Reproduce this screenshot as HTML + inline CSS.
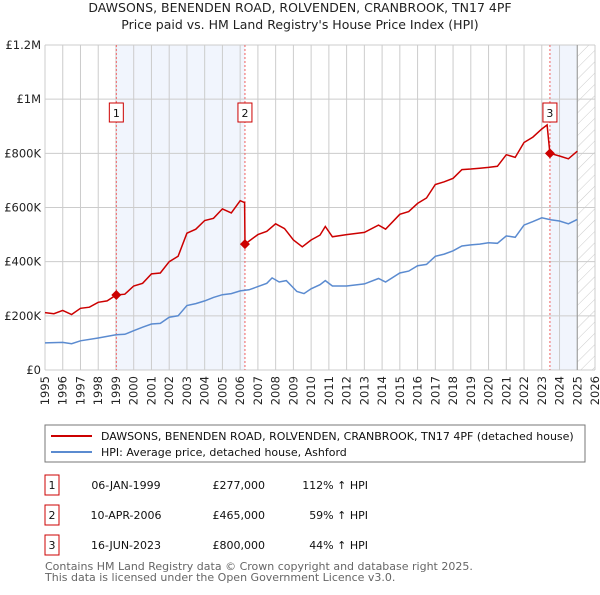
<!DOCTYPE html>
<html><head><meta charset="utf-8"><style>
body{margin:0;background:#fff;font-family:"Liberation Sans","DejaVu Sans",sans-serif;}
svg text{font-family:"DejaVu Sans","Liberation Sans",sans-serif;}
</style></head><body>
<svg id="chart" width="600" height="590" viewBox="0 0 600 590" xmlns="http://www.w3.org/2000/svg">
<defs><pattern id="hatch" patternUnits="userSpaceOnUse" width="8" height="8" patternTransform="rotate(45)"><line x1="0" y1="0" x2="0" y2="8" stroke="#ccc" stroke-width="1"/></pattern></defs>
<text x="300" y="12" text-anchor="middle" font-size="12.5" fill="#222">DAWSONS, BENENDEN ROAD, ROLVENDEN, CRANBROOK, TN17 4PF</text>
<text x="300" y="29" text-anchor="middle" font-size="12.5" fill="#222">Price paid vs. HM Land Registry's House Price Index (HPI)</text>
<g id="bg"></g><g id="grid"></g><g id="series"></g><g id="axes"></g>
<rect x="45" y="425" width="540" height="37" fill="#fff" stroke="#777"/>
<line x1="51" y1="436" x2="92" y2="436" stroke="#cc0000" stroke-width="2"/>
<text x="101" y="440" font-size="11" fill="#111">DAWSONS, BENENDEN ROAD, ROLVENDEN, CRANBROOK, TN17 4PF (detached house)</text>
<line x1="51" y1="452" x2="92" y2="452" stroke="#5b8bd0" stroke-width="2"/>
<text x="101" y="456" font-size="11" fill="#111">HPI: Average price, detached house, Ashford</text>
<g id="table" font-size="11" fill="#111"></g>
<text x="45" y="570" font-size="11" fill="#666">Contains HM Land Registry data © Crown copyright and database right 2025.</text>
<text x="45" y="581" font-size="11" fill="#666">This data is licensed under the Open Government Licence v3.0.</text>
</svg>
<script>
const yTicks=[0,200000,400000,600000,800000,1000000,1200000];
const yTickLabels=["£0","£200K","£400K","£600K","£800K","£1M","£1.2M"];
const years=[1995,1996,1997,1998,1999,2000,2001,2002,2003,2004,2005,2006,2007,2008,2009,2010,2011,2012,2013,2014,2015,2016,2017,2018,2019,2020,2021,2022,2023,2024,2025,2026];
const hpiX=[1995,1996,1996.5,1997,1998,1999,1999.5,2000,2000.5,2001,2001.5,2002,2002.5,2003,2003.5,2004,2004.5,2005,2005.5,2006,2006.5,2007,2007.5,2007.8,2008.2,2008.6,2009.2,2009.6,2010,2010.5,2010.8,2011.2,2012,2013,2013.8,2014.2,2015,2015.5,2016,2016.5,2017,2017.5,2018,2018.5,2019,2019.5,2020,2020.5,2021,2021.5,2022,2022.5,2023,2023.5,2024,2024.5,2025];
const hpiY=[100000,102000,97000,108000,118000,130000,132000,145000,158000,170000,172000,195000,200000,238000,245000,255000,268000,278000,282000,292000,296000,308000,320000,340000,325000,330000,290000,282000,300000,315000,330000,310000,310000,318000,338000,325000,358000,365000,385000,390000,420000,428000,440000,458000,462000,465000,470000,468000,495000,490000,535000,548000,562000,555000,550000,540000,556000];
const priceX=[1995,1995.5,1996,1996.5,1997,1997.5,1998,1998.5,1999.02,1999.5,2000,2000.5,2001,2001.5,2002,2002.5,2003,2003.5,2004,2004.5,2005,2005.5,2006,2006.25,2006.27,2007,2007.5,2008,2008.5,2009,2009.5,2010,2010.5,2010.8,2011.2,2012,2013,2013.8,2014.2,2015,2015.5,2016,2016.5,2017,2017.5,2018,2018.5,2019,2019.5,2020,2020.5,2021,2021.5,2022,2022.5,2023,2023.3,2023.46,2024,2024.5,2025];
const priceY=[212000,208000,220000,205000,228000,232000,250000,255000,277000,280000,310000,320000,355000,358000,400000,420000,505000,520000,552000,560000,595000,580000,625000,618000,465000,500000,512000,540000,522000,480000,455000,480000,498000,530000,492000,500000,508000,535000,520000,575000,585000,615000,635000,685000,695000,708000,740000,742000,745000,748000,752000,795000,785000,840000,860000,890000,905000,800000,790000,780000,808000];
const saleDates=[1999.02,2006.27,2023.46];
const salePrices=[277000,465000,800000];
const saleLabels=["1","2","3"];
const saleDateText=["06-JAN-1999","10-APR-2006","16-JUN-2023"];
const salePriceText=["£277,000","£465,000","£800,000"];
const saleHpiText=["112% ↑ HPI","59% ↑ HPI","44% ↑ HPI"];
const X0=45,X1=595,Y0=370,Y1=45;
const xs=y=>X0+(y-1995)/31*(X1-X0);
const ys=v=>Y0-v/1200000*(Y0-Y1);
const NS="http://www.w3.org/2000/svg";
function mk(tag,attrs,parent,txt){const e=document.createElementNS(NS,tag);for(const k in attrs)e.setAttribute(k,attrs[k]);if(txt!=null)e.textContent=txt;document.getElementById(parent).appendChild(e);return e;}
// shading
let e;
e=mk('rect',{x:xs(saleDates[0]),y:Y1,width:xs(saleDates[1])-xs(saleDates[0]),height:Y0-Y1,fill:'#eef3fc',opacity:0.8},'bg');


e=mk('rect',{x:xs(saleDates[2]),y:Y1,width:xs(2025)-xs(saleDates[2]),height:Y0-Y1,fill:'#eef3fc',opacity:0.8},'bg');


e=mk('rect',{x:xs(2025),y:Y1,width:X1-xs(2025),height:Y0-Y1,fill:'url(#hatch)'},'bg');


// grid
years.forEach(y=>{const g=mk('line',{x1:xs(y),x2:xs(y),y1:Y1,y2:Y0,stroke:'#ccc','stroke-width':1},'grid');


const t=mk('text',{x:0,y:0,transform:`translate(${xs(y)+4},${Y0+6}) rotate(-90)`,'text-anchor':'end','font-size':11.5,fill:'#222'},'axes',String(y));

});
yTicks.forEach((v,i)=>{const g=mk('line',{x1:X0,x2:X1,y1:ys(v),y2:ys(v),stroke:'#ccc','stroke-width':1},'grid');


const t=mk('text',{x:X0-4,y:ys(v)+4,'text-anchor':'end','font-size':11.5,fill:'#222'},'axes',yTickLabels[i]);

});
e=mk('line',{x1:xs(2025),x2:xs(2025),y1:Y1,y2:Y0,stroke:'#999','stroke-width':1},'grid');


// sale markers lines
saleDates.forEach((d,i)=>{const l=mk('line',{x1:xs(d),x2:xs(d),y1:Y1,y2:Y0,stroke:'#f06060','stroke-width':1,'stroke-dasharray':'2,2'},'series');


const r=mk('rect',{x:xs(d)-7,y:103,width:14,height:19,fill:'#fff',stroke:'#cc0000'},'series');


const t=mk('text',{x:xs(d),y:117,'text-anchor':'middle','font-size':11,fill:'#111'},'series',saleLabels[i]);

});
// lines
let p=hpiX.map((x,i)=>(i?'L':'M')+xs(x).toFixed(1)+','+ys(hpiY[i]).toFixed(1)).join('');
e=mk('path',{d:p,fill:'none',stroke:'#5b8bd0','stroke-width':1.5},'series');


p=priceX.map((x,i)=>(i?'L':'M')+xs(x).toFixed(1)+','+ys(priceY[i]).toFixed(1)).join('');
e=mk('path',{d:p,fill:'none',stroke:'#cc0000','stroke-width':1.5},'series');


saleDates.forEach((d,i)=>{const c=mk('path',{d:`M${xs(d)-5},${ys(salePrices[i])}l5,-5l5,5l-5,5z`,fill:'#cc0000'},'series');

});
// table
const rowY=[483,513,543];
saleLabels.forEach((s,i)=>{const r=mk('rect',{x:45,y:rowY[i]-8,width:14,height:20,fill:'#fff',stroke:'#cc0000'},'table');


let t=mk('text',{x:52,y:rowY[i]+6,'text-anchor':'middle'},'table',s);


t=mk('text',{x:126,y:rowY[i]+6,'text-anchor':'middle'},'table',saleDateText[i]);


t=mk('text',{x:265,y:rowY[i]+6,'text-anchor':'end'},'table',salePriceText[i]);


t=mk('text',{x:368,y:rowY[i]+6,'text-anchor':'end'},'table',saleHpiText[i]);

});
</script>
</body></html>
